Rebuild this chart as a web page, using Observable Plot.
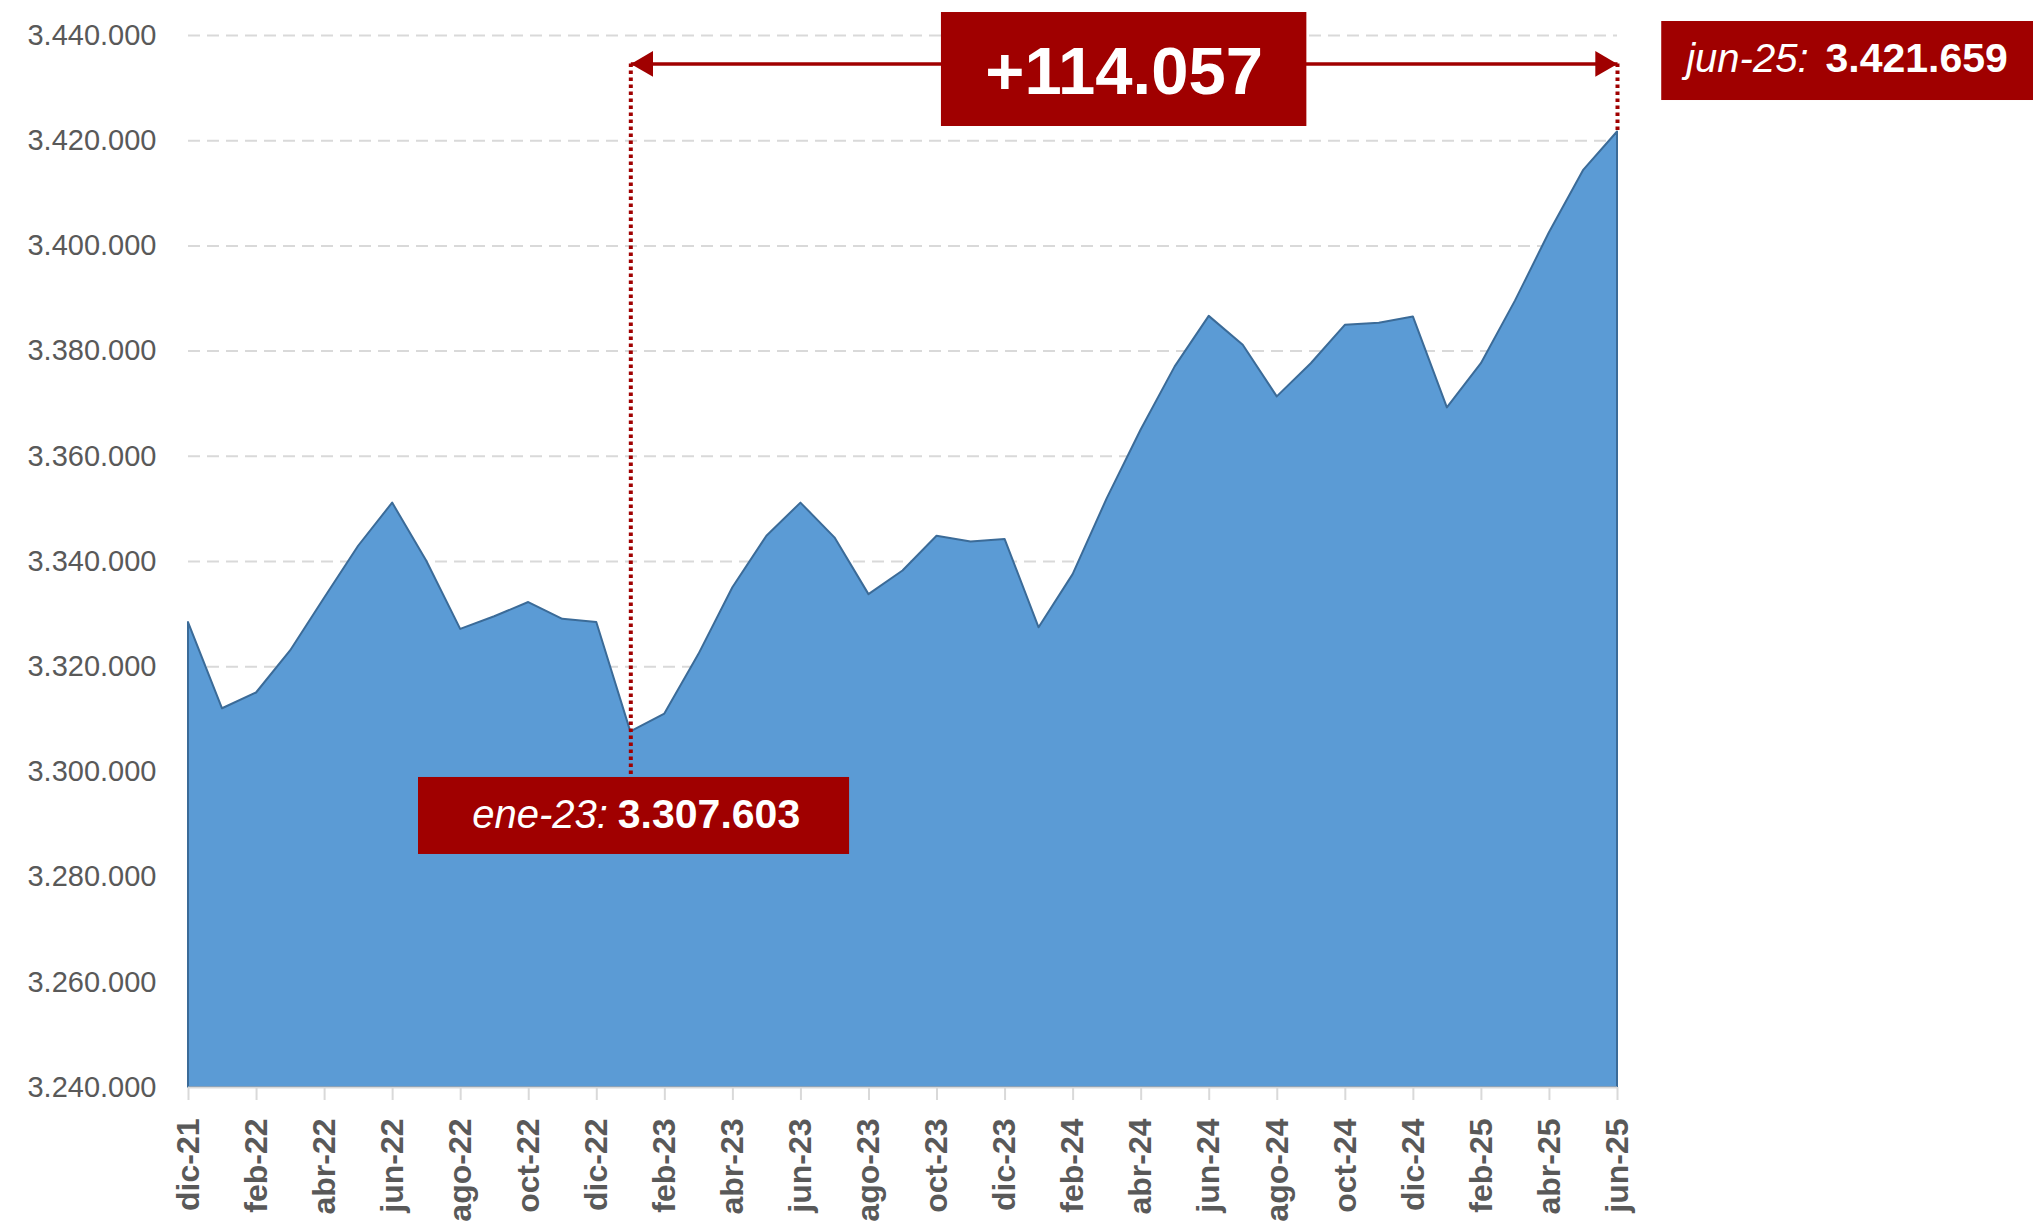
<!DOCTYPE html>
<html>
<head>
<meta charset="utf-8">
<script src="https://cdn.jsdelivr.net/npm/d3@7"></script>
<script src="https://cdn.jsdelivr.net/npm/@observablehq/plot@0.6"></script>
<style>
  html, body { margin: 0; padding: 0; background: #ffffff; }
  #chart svg { display: block; }
</style>
</head>
<body>
<div id="chart"></div>
<script>
// ---- Data ----
const months = [
  "dic-21","ene-22","feb-22","mar-22","abr-22","may-22","jun-22","jul-22","ago-22","sep-22","oct-22","nov-22",
  "dic-22","ene-23","feb-23","mar-23","abr-23","may-23","jun-23","jul-23","ago-23","sep-23","oct-23","nov-23",
  "dic-23","ene-24","feb-24","mar-24","abr-24","may-24","jun-24","jul-24","ago-24","sep-24","oct-24","nov-24",
  "dic-24","ene-25","feb-25","mar-25","abr-25","may-25","jun-25"
];
const values = [
  3328400, 3312000, 3315000, 3323000, 3333000, 3342900, 3351100, 3340100, 3327100, 3329500, 3332200, 3329000,
  3328400, 3307603, 3311000, 3322300, 3335000, 3344800, 3351100, 3344500, 3333700, 3338200, 3344800, 3343700,
  3344200, 3327400, 3337500, 3351900, 3365000, 3377000, 3386600, 3381100, 3371300, 3377600, 3384900, 3385300,
  3386500, 3369200, 3377600, 3389500, 3402500, 3414300, 3421659
];
const tickMonths = [
  "dic-21","feb-22","abr-22","jun-22","ago-22","oct-22","dic-22","feb-23","abr-23","jun-23","ago-23",
  "oct-23","dic-23","feb-24","abr-24","jun-24","ago-24","oct-24","dic-24","feb-25","abr-25","jun-25"
];
const yTicks = [3240000, 3260000, 3280000, 3300000, 3320000, 3340000, 3360000, 3380000, 3400000, 3420000, 3440000];

// Annotation texts
const startMonth = "ene-23";
const endMonth = "jun-25";
const deltaLabel = "+114.057";
const startLabelName = "ene-23:";
const startLabelValue = "3.307.603";
const endLabelName = "jun-25:";
const endLabelValue = "3.421.659";

// ---- Helpers ----
const locale = d3.formatLocale({decimal: ",", thousands: ".", grouping: [3], currency: ["", " €"]});
const fmt = locale.format(",d");
const data = months.map((m, i) => ({i, month: m, value: values[i]}));
const tickIdx = tickMonths.map(m => months.indexOf(m));
const iStart = months.indexOf(startMonth);
const iEnd = months.indexOf(endMonth);
const iMid = (iStart + iEnd) / 2;

const red = "#a00000";
const arrowLevel = 3434600;          // value level of the double arrow
const startBox = {x1: 6.76, x2: 19.43, y1: 3284300, y2: 3298940};
const deltaBox = {x1: iMid - 5.37, x2: iMid + 5.37, y1: 3422700, y2: 3444370};
const endBox = {x1: 43.3, x2: 54.6, y1: 3427640, y2: 3442660};

const font = "'Liberation Sans', Arial, Helvetica, sans-serif";

const chart = Plot.plot({
  width: 2033,
  height: 1226,
  marginLeft: 188,
  marginRight: 416,
  marginTop: 35,
  marginBottom: 139,
  style: {fontFamily: font, background: "#ffffff", overflow: "visible"},
  x: {type: "linear", domain: [0, months.length - 1], nice: false},
  y: {domain: [3240000, 3440000], nice: false},
  marks: [
    Plot.gridY(yTicks.slice(1), {stroke: "#d9d9d9", strokeOpacity: 1, strokeWidth: 2, strokeDasharray: "12,7"}),
    Plot.areaY(data, {x: "i", y: "value", y1: 3240000, fill: "#5b9bd5", stroke: "#3b6b98", strokeWidth: 2}),
    Plot.ruleY([3240000], {stroke: "#d9d9d9", strokeWidth: 2}),
    Plot.axisX(tickIdx, {
      anchor: "bottom", tickSize: 13, tickPadding: 18, tickRotate: -90,
      tickFormat: i => months[i], fontSize: 32, fontWeight: "bold",
      fill: "#595959", stroke: "#d9d9d9", strokeWidth: 2, label: null
    }),
    Plot.axisY(yTicks, {
      anchor: "left", tickSize: 0, tickPadding: 32, tickFormat: fmt,
      fontSize: 29, fill: "#595959", label: null
    }),
    // dotted guide lines
    Plot.ruleX([iStart], {x: d => d, y1: arrowLevel, y2: startBox.y2, stroke: red, strokeWidth: 4, strokeDasharray: "3.5,3.5"}),
    Plot.ruleX([iEnd], {x: d => d, y1: arrowLevel, y2: values[iEnd], stroke: red, strokeWidth: 4, strokeDasharray: "3.5,3.5"}),
    // double arrow
    Plot.link([0], {x1: iStart, x2: iEnd, y1: arrowLevel, y2: arrowLevel, stroke: red, strokeWidth: 3.5}),
    Plot.dot([iStart], {x: d => d, y: arrowLevel, symbol: "triangle", r: 9.5, rotate: -90, dx: 14.8, fill: red, stroke: "none"}),
    Plot.dot([iEnd], {x: d => d, y: arrowLevel, symbol: "triangle", r: 9.5, rotate: 90, dx: -14.8, fill: red, stroke: "none"}),
    // label boxes
    Plot.rect([startBox, deltaBox, endBox], {x1: "x1", x2: "x2", y1: "y1", y2: "y2", fill: red}),
    // texts
    Plot.text([deltaLabel], {x: iMid, y: 3428970, text: d => d, lineAnchor: "bottom", textAnchor: "middle",
      fontSize: 67, fontWeight: "bold", fill: "#ffffff"}),
    Plot.text([startLabelName], {x: iStart, y: 3289380, text: d => d, dx: -23, lineAnchor: "bottom", textAnchor: "end",
      fontSize: 40, fontStyle: "italic", fill: "#ffffff"}),
    Plot.text([startLabelValue], {x: iStart, y: 3289380, text: d => d, dx: -13, lineAnchor: "bottom", textAnchor: "start",
      fontSize: 41, fontWeight: "bold", fill: "#ffffff"}),
    Plot.text([endLabelName], {x: iEnd, y: 3433020, text: d => d, dx: 191, lineAnchor: "bottom", textAnchor: "end",
      fontSize: 40, fontStyle: "italic", fill: "#ffffff"}),
    Plot.text([endLabelValue], {x: iEnd, y: 3433020, text: d => d, dx: 208, lineAnchor: "bottom", textAnchor: "start",
      fontSize: 41, fontWeight: "bold", fill: "#ffffff"})
  ]
});
document.getElementById("chart").appendChild(chart);
</script>
</body>
</html>
